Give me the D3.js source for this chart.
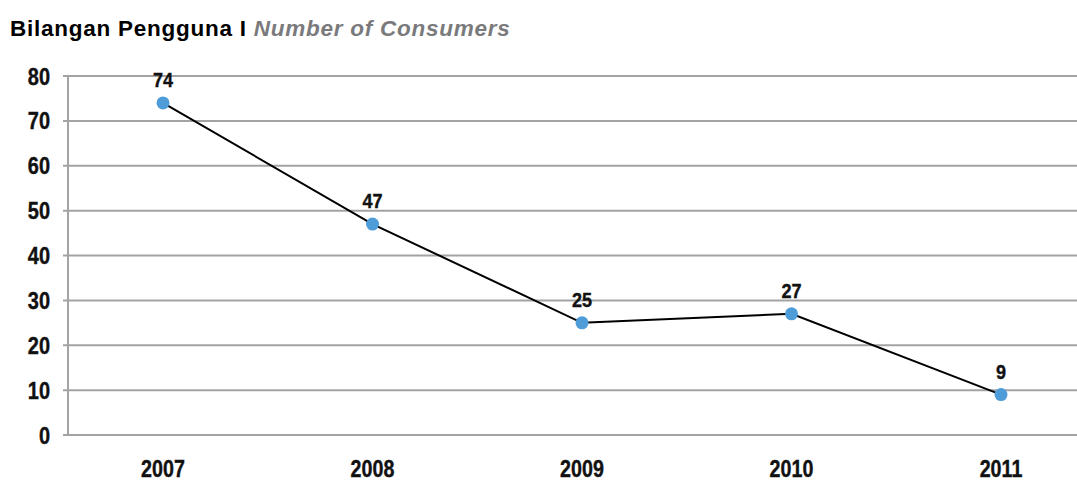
<!DOCTYPE html>
<html><head><meta charset="utf-8">
<script src="https://cdn.jsdelivr.net/npm/d3@7"></script>
<style>body{margin:0;background:#fff}svg{display:block}</style>
</head><body>
<svg id="c" width="1077" height="483"></svg>
<script>
const years = ["2007","2008","2009","2010","2011"];
const consumers = [74, 47, 25, 27, 9];
const yTicks = [0,10,20,30,40,50,60,70,80];
const titleMain = "Bilangan Pengguna I ";
const titleSub = "Number of Consumers";

const svg = d3.select("#c");
const W = 1077, H = 483;
const m = {left: 68, right: 0, top: 76, bottom: 48};
const x = d3.scalePoint().domain(years).range([163, 1001]);
const y = d3.scaleLinear().domain([0, 80]).range([H - m.bottom, m.top]);
const grid = "#a3a3a6";
const font = "'Liberation Sans', Arial, sans-serif";

// title
const t = svg.append("text").attr("x", 10).attr("y", 36)
  .attr("font-family", font).attr("font-weight", "bold").attr("font-size", 22.5)
  .attr("letter-spacing", 0.75);
t.append("tspan").attr("fill", "#000").text(titleMain);
t.append("tspan").attr("fill", "#7a7a7c").attr("font-style", "italic").text(titleSub);

// gridlines
svg.append("g").selectAll("line").data(yTicks).join("line")
  .attr("x1", m.left - 5).attr("x2", W)
  .attr("y1", d => y(d)).attr("y2", d => y(d))
  .attr("stroke", grid).attr("stroke-width", 2);
// y axis line
svg.append("line").attr("x1", m.left).attr("x2", m.left)
  .attr("y1", y(80)).attr("y2", y(0)).attr("stroke", grid).attr("stroke-width", 2);

function condText(g, txt, px, py, size, sx, anchor) {
  g.append("text")
    .attr("transform", `translate(${px},${py}) scale(${sx},1)`)
    .attr("text-anchor", anchor)
    .attr("font-family", font).attr("font-weight", "bold")
    .attr("font-size", size).attr("fill", "#111")
    .attr("stroke", "#111").attr("stroke-width", 0.4).text(txt);
}
const yl = svg.append("g");
yTicks.forEach(d => condText(yl, d, 50, y(d) + 8.5, 23.5, 0.85, "end"));
const xl = svg.append("g");
years.forEach(d => condText(xl, d, x(d), 477, 24, 0.82, "middle"));

// line
const pts = years.map((yr, i) => [x(yr), y(consumers[i])]);
svg.append("path").attr("d", d3.line()(pts)).attr("fill", "none")
  .attr("stroke", "#000").attr("stroke-width", 2);
svg.append("g").selectAll("circle").data(pts).join("circle")
  .attr("cx", d => d[0]).attr("cy", d => d[1]).attr("r", 6.5)
  .attr("fill", "#4e9dd8");
const dl = svg.append("g");
years.forEach((yr, i) => condText(dl, consumers[i], x(yr), y(consumers[i]) - 16, 21, 0.86, "middle"));
</script>
</body></html>
